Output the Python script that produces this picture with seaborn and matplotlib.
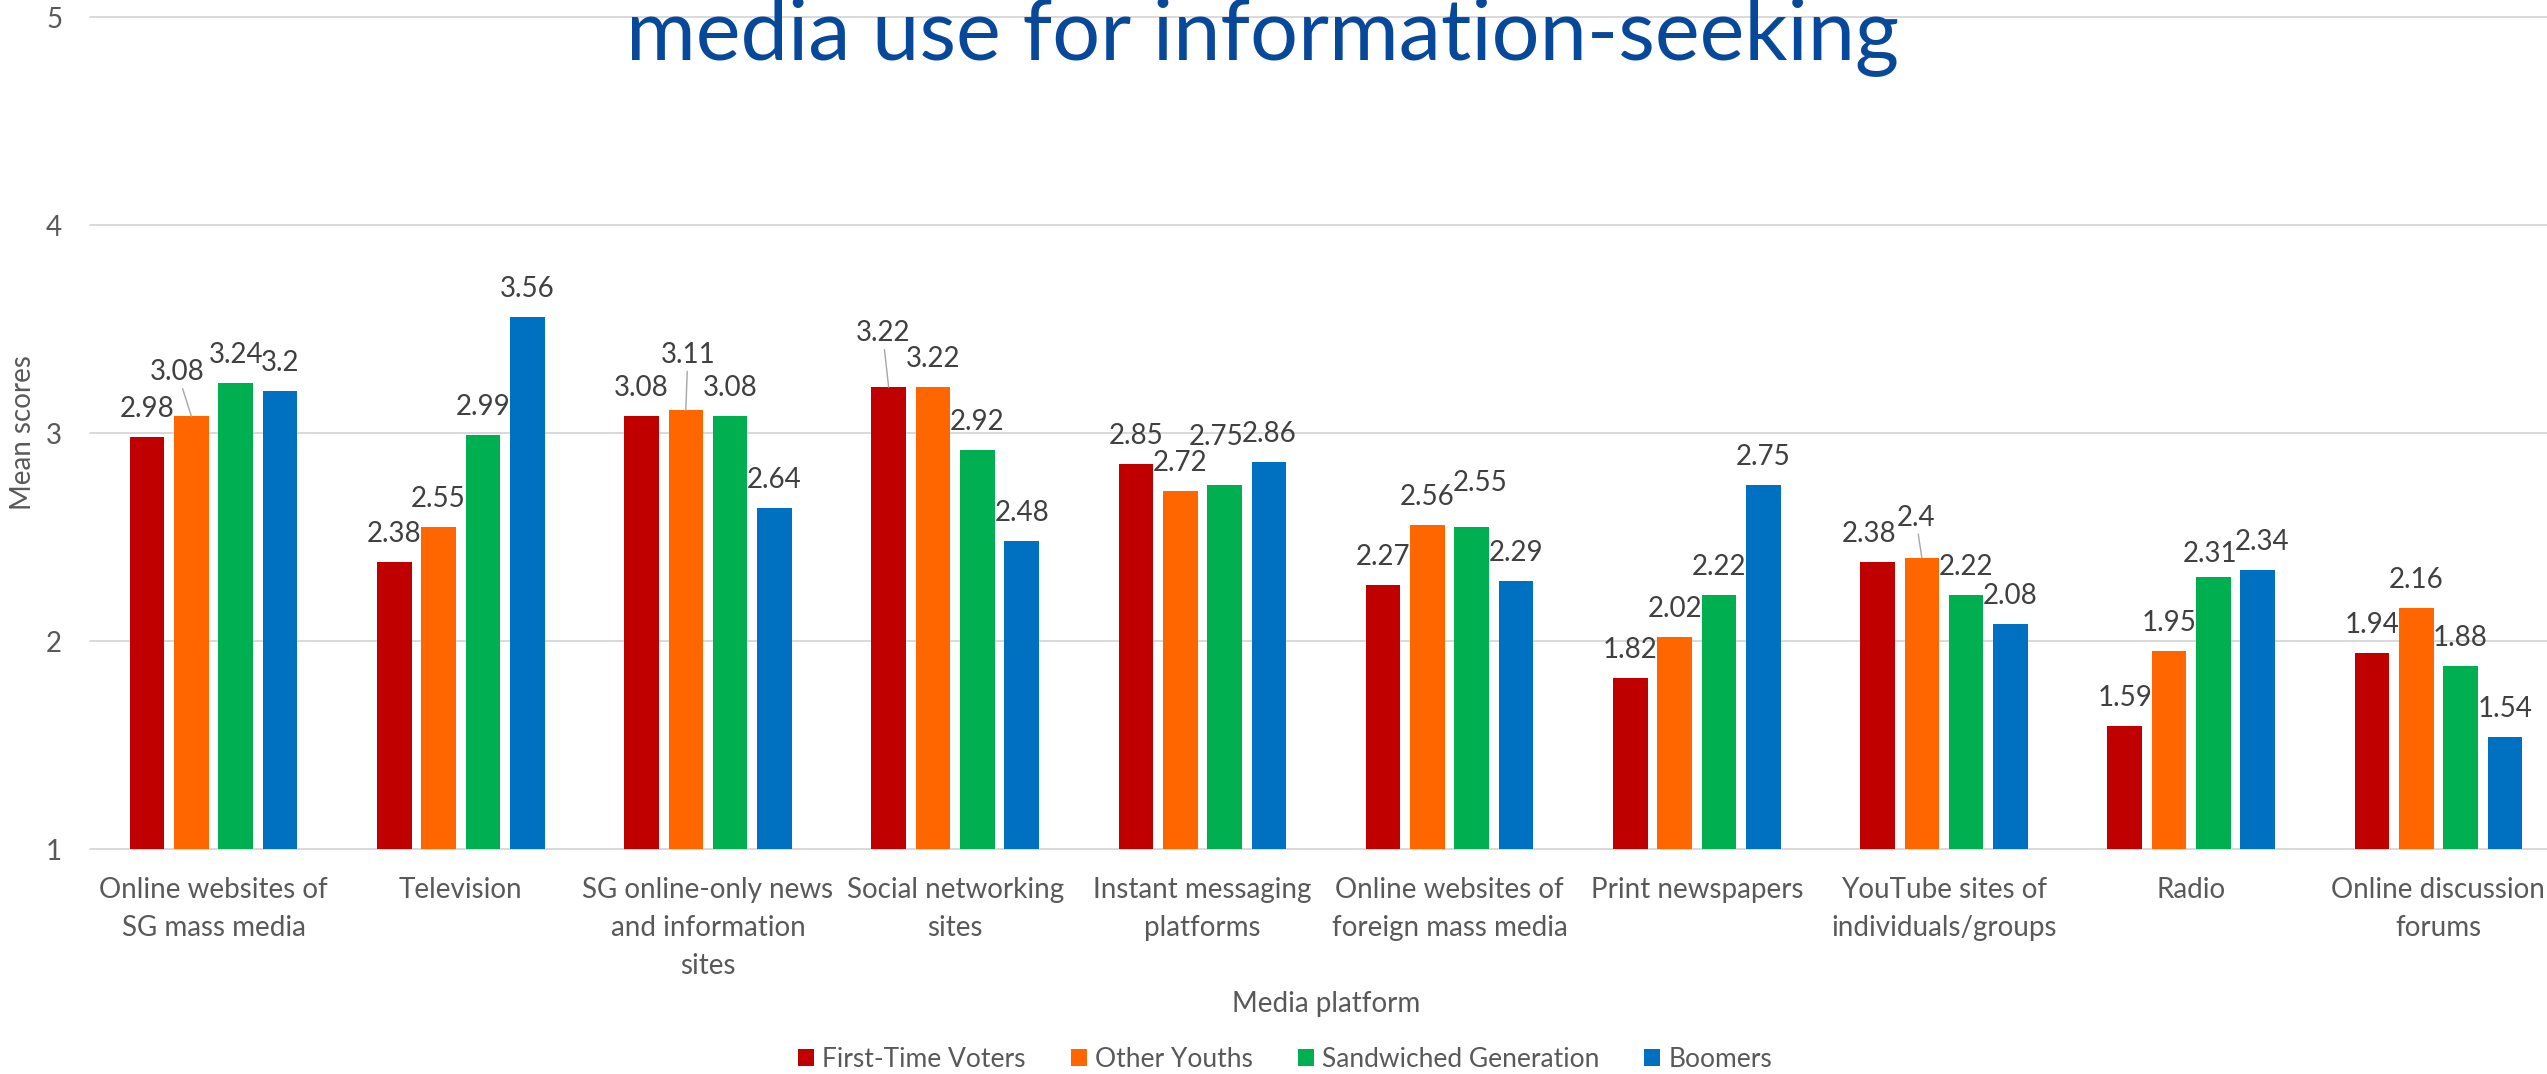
import matplotlib
matplotlib.use("Agg")
import matplotlib.pyplot as plt
import seaborn as sns
import pandas as pd

# ---- data -------------------------------------------------------------
platforms = [
    "Online websites of SG mass media",
    "Television",
    "SG online-only news and information sites",
    "Social networking sites",
    "Instant messaging platforms",
    "Online websites of foreign mass media",
    "Print newspapers",
    "YouTube sites of individuals/groups",
    "Radio",
    "Online discussion forums",
]
tick_labels = [
    "Online websites of\nSG mass media",
    "Television",
    "SG online-only news\nand information\nsites",
    "Social networking\nsites",
    "Instant messaging\nplatforms",
    "Online websites of\nforeign mass media",
    "Print newspapers",
    "YouTube sites of\nindividuals/groups",
    "Radio",
    "Online discussion\nforums",
]
groups = ["First-Time Voters", "Other Youths", "Sandwiched Generation", "Boomers"]
first_time_voters = [2.98, 2.38, 3.08, 3.22, 2.85, 2.27, 1.82, 2.38, 1.59, 1.94]
other_youths = [3.08, 2.55, 3.11, 3.22, 2.72, 2.56, 2.02, 2.4, 1.95, 2.16]
sandwiched_generation = [3.24, 2.99, 3.08, 2.92, 2.75, 2.55, 2.22, 2.22, 2.31, 1.88]
boomers = [3.2, 3.56, 2.64, 2.48, 2.86, 2.29, 2.75, 2.08, 2.34, 1.54]
series = [first_time_voters, other_youths, sandwiched_generation, boomers]
y_ticks = [1, 2, 3, 4, 5]

title = "media use for information-seeking"
x_title = "Media platform"
y_title = "Mean scores"

# ---- style ------------------------------------------------------------
colors = ["#C00000", "#FF6600", "#00B050", "#0070C0"]
text_grey = "#595959"
label_grey = "#404040"
grid_grey = "#D9D9D9"
W, H, DPI = 2547, 1074, 100
FS = 20

sns.set_style("white")
plt.rcParams["font.family"] = ["Lato", "DejaVu Sans"]

# nudges (pixels) for data labels that would collide: (series, platform) -> (dx, dy, leader line)
label_nudges = {
    (1, 0): (-14, 16, True),
    (1, 2): (2, 27, True),
    (0, 3): (-6, 26, True),
    (2, 4): (-8, 20, False),
    (2, 5): (8, 16, False),
    (0, 7): (-8, 0, False),
    (1, 7): (-6, 12, True),
    (2, 8): (-3, -5, False),
    (3, 8): (4, 0, False),
}

df = pd.DataFrame({
    "Media platform": platforms * len(groups),
    "Group": [g for g in groups for _ in platforms],
    "Mean": [v for s in series for v in s],
})

fig = plt.figure(figsize=(W / DPI, H / DPI), dpi=DPI)
ax = fig.add_axes([90 / W, 1 - 849 / H, (2562 - 90) / W, (849 - 17) / H])

sns.barplot(
    data=df, x="Media platform", y="Mean", hue="Group",
    order=platforms, hue_order=groups, palette=colors, saturation=1,
    width=0.718, gap=0.22, errorbar=None, linewidth=0, ax=ax,
)

ax.set_xlim(-0.5, len(platforms) - 0.5)
ax.set_ylim(y_ticks[0], y_ticks[-1])
ax.set_yticks(y_ticks)
ax.set_yticklabels([str(t) for t in y_ticks])
ax.set_xticks(range(len(platforms)))
ax.set_xticklabels(tick_labels, linespacing=1.58)
ax.set_xlabel("")
ax.set_ylabel("")
for sp in ax.spines.values():
    sp.set_visible(False)
ax.tick_params(axis="x", length=0, pad=20, labelsize=FS, labelcolor=text_grey)
ax.tick_params(axis="y", length=0, pad=20, labelsize=FS, labelcolor=text_grey)
ax.yaxis.grid(True, color=grid_grey, linewidth=1.4)
ax.set_axisbelow(True)
for gl in ax.get_ygridlines():
    gl.set_clip_on(False)

# data labels above each bar
px = 72 / DPI
for si, cont in enumerate(ax.containers):
    for pi, bar in enumerate(cont):
        value = series[si][pi]
        xc = bar.get_x() + bar.get_width() / 2
        dx, dy, leader = label_nudges.get((si, pi), (0, 0, False))
        kw = {}
        if leader:
            kw["arrowprops"] = dict(arrowstyle="-", color="#A6A6A6", lw=1.0,
                                    shrinkA=0, shrinkB=0)
        ax.annotate(f"{value:g}", xy=(xc, bar.get_height()),
                    xytext=(dx * px, (20 + dy) * px), textcoords="offset points",
                    ha="center", va="baseline", fontsize=FS, color=label_grey,
                    annotation_clip=False, **kw)

# legend along the bottom
handles, labels = ax.get_legend_handles_labels()
if ax.get_legend() is not None:
    ax.get_legend().remove()
fig.legend(handles, labels, loc="center", bbox_to_anchor=(1285 / W, 1 - 1059.5 / H),
           ncol=4, frameon=False, fontsize=19, handlelength=0.62, handleheight=0.62,
           handletextpad=0.3, columnspacing=1.7, borderpad=0, labelcolor=text_grey)

fig.text(1326 / W, 1 - 1012 / H, x_title, ha="center", va="baseline",
         fontsize=FS, color=text_grey)
fig.text(23 / W, 1 - 433 / H, y_title, rotation=90, ha="center", va="center",
         fontsize=FS, color=text_grey)
fig.text(1262 / W, 1 - 59 / H, title, ha="center", va="baseline",
         fontsize=61, color="#07489A")

fig.savefig("out.png", dpi=DPI)
